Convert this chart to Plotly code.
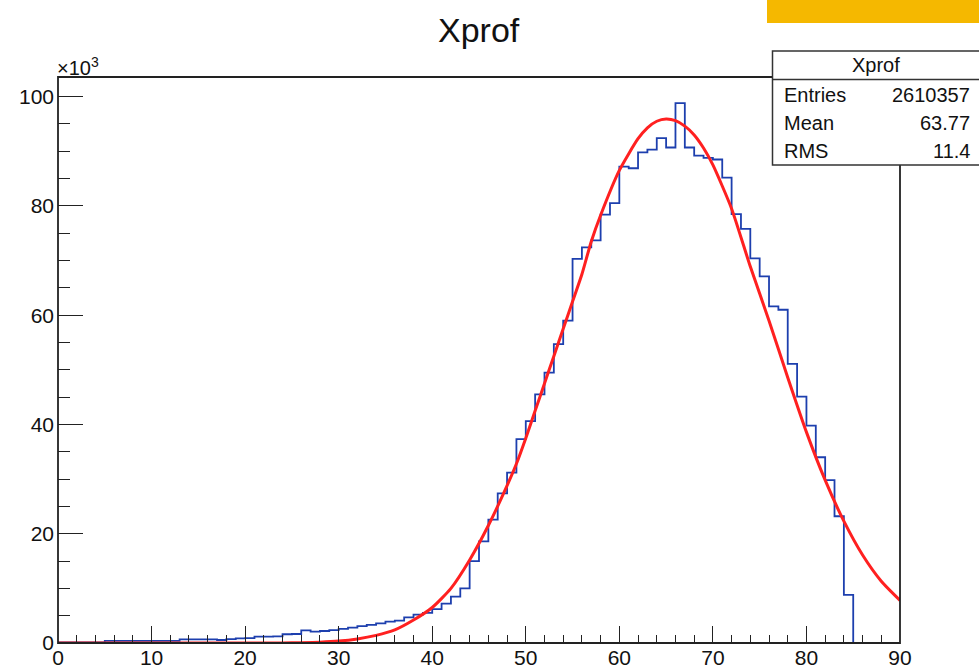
import plotly.graph_objects as go

# ---------------- data ----------------
# Histogram "Xprof": 90 bins of width 1 from 0 to 90, contents in thousands
bin_edges = list(range(0, 91))
counts_k = [
    0.1, 0.1, 0.1, 0.1, 0.1,                        # 0-4
    0.4, 0.4, 0.4, 0.4, 0.4, 0.4, 0.4, 0.4,         # 5-12
    0.65, 0.65, 0.65, 0.65,                         # 13-16
    0.55, 0.7, 0.85, 0.9,                           # 17-20
    1.15, 1.15, 1.2,                                # 21-23
    1.6, 1.65,                                      # 24-25
    2.3, 2.1, 2.2, 2.35, 2.6, 2.8, 3.1, 3.3, 3.6,   # 26-34
    3.9, 4.1, 4.7, 5.2, 5.5, 6.2, 7.2, 8.5, 10.0,   # 35-43
    15.0, 18.6, 22.6, 27.4, 31.2, 37.3, 40.6, 45.5, 49.5, 54.7, 59.0,  # 44-54
    70.3, 72.4, 73.7, 78.4, 80.5, 87.2, 86.9, 89.8, 90.3, 92.4,        # 55-64
    90.7, 98.8, 90.7, 89.2, 88.8, 88.5, 85.2, 78.5, 75.8, 70.4,        # 65-74
    67.1, 61.6, 61.0, 51.1, 45.1, 39.8, 34.0, 29.8, 23.2, 8.8,         # 75-84
    0, 0, 0, 0, 0,                                                     # 85-89
]

# Gaussian fit curve (x, value in thousands)
fit_x = [0, 5, 10, 15, 20, 24, 26, 28, 30, 32, 34, 36, 38, 40, 42, 44, 46, 48,
         49, 50, 51, 52, 53, 54, 55, 56, 57, 58, 60, 62, 63, 64, 65, 66, 67,
         68, 69, 70, 72, 74, 76, 78, 80, 82, 84, 86, 88, 90]
fit_k = [0.0, 0.0, 0.0, 0.0, 0.0, 0.02, 0.06, 0.15, 0.35, 0.75, 1.4, 2.4, 4.2,
         6.5, 10.0, 15.2, 21.5, 28.8, 32.8, 37.5, 42.5, 47.5, 52.5, 57.5, 62.5,
         67.5, 73.5, 78.3, 86.5, 92.3, 94.3, 95.5, 95.9, 95.6, 94.6, 93.0, 90.6,
         87.5, 79.5, 68.9, 59.0, 48.6, 38.6, 29.8, 22.3, 16.1, 11.3, 7.8]

x_ticks = [0, 10, 20, 30, 40, 50, 60, 70, 80, 90]
y_ticks = [0, 20, 40, 60, 80, 100]

hist_name = "Xprof"
stat_labels = ["Entries", "Mean", "RMS"]
stat_values = ["2610357", "63.77", "11.4"]

# ---------------- geometry helpers ----------------
W, H = 979, 671
L, R, T, B = 58, 900, 77, 643


def px(x):
    return (x - L) / (R - L)


def py(y):
    return (B - y) / (B - T)


FONT = "Liberation Sans, Arial, Helvetica, sans-serif"
INK = "#222222"

fig = go.Figure()

fig.add_trace(go.Scatter(
    x=bin_edges, y=counts_k + [counts_k[-1]],
    mode="lines", line=dict(color="#1d3fae", width=1.8, shape="hv"),
    hoverinfo="skip", showlegend=False,
))

fig.add_trace(go.Scatter(
    x=fit_x, y=fit_k,
    mode="lines", line=dict(color="#ff2020", width=3, shape="spline", smoothing=0.6),
    hoverinfo="skip", showlegend=False,
))

axis_common = dict(
    showgrid=False, zeroline=False, showline=False,
    ticks="inside", tickcolor=INK, tickwidth=1.2, automargin=False,
    tickfont=dict(family=FONT, size=21, color="#111"),
)

fig.update_xaxes(
    range=[0, 90], tickmode="array", tickvals=x_ticks, ticklen=17,
    ticklabelstandoff=0,
    minor=dict(ticks="inside", ticklen=8, dtick=2, tick0=0, tickcolor=INK, tickwidth=1.2, showgrid=False),
    **axis_common,
)
fig.update_yaxes(
    range=[0, 103.6], tickmode="array", tickvals=y_ticks, ticklen=25,
    ticklabelstandoff=3,
    minor=dict(ticks="inside", ticklen=12, dtick=5, tick0=0, tickcolor=INK, tickwidth=1.2, showgrid=False),
    **axis_common,
)

shapes = [
    # frame of the pad
    dict(type="rect", xref="paper", yref="paper", x0=0, x1=1, y0=0, y1=1,
         line=dict(color=INK, width=1.8), fillcolor="rgba(0,0,0,0)", layer="above"),
    # yellow banner at the top right (cropped slide header)
    dict(type="rect", xref="paper", yref="paper", x0=px(767), x1=px(990), y0=py(23), y1=py(-5),
         fillcolor="#F5B800", line=dict(width=0), layer="above"),
    # statistics box
    dict(type="rect", xref="paper", yref="paper", x0=px(772.5), x1=px(990), y0=py(165), y1=py(51),
         fillcolor="white", line=dict(color="#333", width=1.5), layer="above"),
    dict(type="line", xref="paper", yref="paper", x0=px(772.5), x1=px(990), y0=py(79.5), y1=py(79.5),
         line=dict(color="#333", width=1.5), layer="above"),
]

annotations = [
    dict(text=hist_name, x=0.5, y=py(30), xref="paper", yref="paper", showarrow=False,
         xanchor="center", yanchor="middle", font=dict(family=FONT, size=34, color="#111")),
    dict(text="×10<sup>3</sup>", x=px(55), y=py(66), xref="paper", yref="paper", showarrow=False,
         xanchor="left", yanchor="middle", font=dict(family=FONT, size=20, color="#111")),
    dict(text=hist_name, x=px(876), y=py(65), xref="paper", yref="paper", showarrow=False,
         xanchor="center", yanchor="middle", font=dict(family=FONT, size=20, color="#111")),
]
row_y = [95, 123, 151]
for lab, val, yy in zip(stat_labels, stat_values, row_y):
    annotations.append(dict(text=lab, x=px(782), y=py(yy), xref="paper", yref="paper", showarrow=False,
                            xanchor="left", yanchor="middle", font=dict(family=FONT, size=20, color="#111")))
    annotations.append(dict(text=val, x=px(972), y=py(yy), xref="paper", yref="paper", showarrow=False,
                            xanchor="right", yanchor="middle", font=dict(family=FONT, size=20, color="#111")))

fig.update_layout(
    width=W, height=H,
    margin=dict(l=L, r=W - R, t=T, b=H - B, pad=0, autoexpand=False),
    paper_bgcolor="white", plot_bgcolor="white",
    shapes=shapes, annotations=annotations,
    showlegend=False,
)

fig.write_html(
    "out.html",
    config={"displayModeBar": False},
    post_script="document.body.style.margin='0';document.body.style.padding='0';",
)
